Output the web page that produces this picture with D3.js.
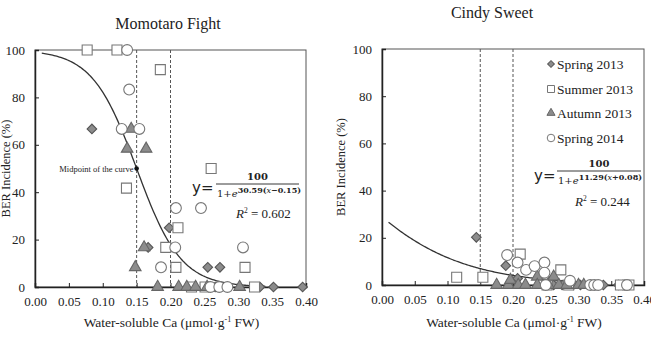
<!DOCTYPE html>
<html>
<head>
<meta charset="utf-8">
<script src="https://cdn.jsdelivr.net/npm/d3@7"></script>
<style>
  body { margin: 0; background: #fff; }
</style>
</head>
<body>
<div id="plot"></div>
<script>
// Momotaro Fight: [Ca, BER %]
var momoSpring2013 = [[0.084,66.7],[0.198,25],[0.167,16.7],[0.255,8.3],[0.273,8.3],[0.256,0],[0.266,0],[0.332,0],[0.352,0],[0.395,0]];
var momoSummer2013 = [[0.077,100],[0.121,100],[0.185,91.7],[0.26,50],[0.135,41.7],[0.211,25],[0.193,16.7],[0.208,8.3],[0.31,8.3],[0.231,0],[0.251,0],[0.324,0]];
var momoAutumn2013 = [[0.142,66.7],[0.136,58.3],[0.164,58.3],[0.161,16.7],[0.148,8.3],[0.181,0],[0.212,0],[0.224,0],[0.237,0],[0.254,0],[0.302,0]];
var momoSpring2014 = [[0.136,100],[0.139,83.3],[0.128,66.7],[0.154,66.7],[0.208,33.3],[0.245,33.3],[0.207,16.7],[0.307,16.7],[0.186,8.3],[0.259,0],[0.272,0],[0.284,0]];

// Cindy Sweet
var cindySpring2013 = [[0.144,20.2],[0.189,8.2],[0.207,2.8],[0.258,2],[0.262,0],[0.275,0],[0.292,0],[0.303,0],[0.338,0],[0.361,0],[0.367,0]];
var cindySummer2013 = [[0.114,3.3],[0.154,3.3],[0.211,13.1],[0.273,6.4],[0.252,0],[0.285,0],[0.364,0],[0.377,0]];
var cindyAutumn2013 = [[0.175,0],[0.193,0],[0.196,2.1],[0.208,0],[0.219,0],[0.237,3.5],[0.237,0],[0.254,0],[0.262,3.5],[0.27,0],[0.282,0],[0.3,0],[0.308,0]];
var cindySpring2014 = [[0.191,12.7],[0.207,9.5],[0.22,6.4],[0.233,8],[0.248,9.5],[0.248,5.2],[0.287,1.8],[0.25,0],[0.318,0],[0.324,0],[0.33,0],[0.374,0]];

var seriesNames = ["Spring 2013","Summer 2013","Autumn 2013","Spring 2014"];
var xTicks = [0,0.05,0.10,0.15,0.20,0.25,0.30,0.35,0.40];
var yTicks = [0,20,40,60,80,100];
var guideLines = [0.15, 0.20];

// logistic fits y = 100/(1+e^(k(x-m)))
var momoFit = {k: 30.59, m: 0.15, from: 0.01, to: 0.34};
var cindyFit = {k: 11.29, m: -0.08, from: 0.01, to: 0.30};

var width = 651, height = 338;
var SERIF = "'Liberation Serif', 'Times New Roman', Times, serif";
var MATH = "'DejaVu Serif', 'Liberation Serif', serif";

var svg = d3.select("#plot").append("svg")
     .attr("width", width)
     .attr("height", height)
     .attr("font-family", SERIF);

var markerStyles = [
     {type: "diamond", fill: "#8c8c8c", stroke: "#555"},
     {type: "square", fill: "#fff", stroke: "#777"},
     {type: "triangle", fill: "#8c8c8c", stroke: "#666"},
     {type: "circle", fill: "#fff", stroke: "#777"}
];

function markerPath(type, s) {
     // s = scale factor, 1 = chart size
     if (type == "diamond") return d3.symbol().type(d3.symbolSquare).size(46*s*s)();
     if (type == "square") return d3.symbol().type(d3.symbolSquare).size(100*s*s)();
     if (type == "triangle") return d3.symbol().type(d3.symbolTriangle).size(58*s*s)();
     return d3.symbol().type(d3.symbolCircle).size(92*s*s)();
}

function txt(sel, size, fam) {
     return sel.attr("font-family", fam || SERIF).attr("font-size", size).attr("fill", "#222");
}

function drawPanel(p) {
     var x = d3.scaleLinear().domain([0,0.4]).range(p.xr);
     var y = d3.scaleLinear().domain([0,100]).range(p.yr);
     var g = svg.append("g");

     // frame
     g.append("rect")
          .attr("x", p.xr[0]).attr("y", p.yr[1])
          .attr("width", p.xr[1]-p.xr[0]).attr("height", p.yr[0]-p.yr[1])
          .attr("fill", "none").attr("stroke", "#555").attr("stroke-width", 1);

     // axes (ticks inside)
     var xa = g.append("g")
          .attr("transform", "translate(0," + p.yr[0] + ")")
          .call(d3.axisBottom(x).tickValues(xTicks).tickSize(-4).tickPadding(10).tickFormat(d3.format(".2f")));
     var ya = g.append("g")
          .attr("transform", "translate(" + p.xr[0] + ",0)")
          .call(d3.axisLeft(y).tickValues(yTicks).tickSize(-4).tickPadding(10));
     [xa, ya].forEach(function(a){
          a.attr("font-family", SERIF).attr("font-size", 13);
          a.select(".domain").attr("stroke", "#222").attr("stroke-width", 1.5);
          a.selectAll(".tick line").attr("stroke", "#222");
          a.selectAll("text").attr("fill", "#222");
     });
     ya.selectAll(".tick").filter(function(d){ return d==0 || d==100; }).select("line").remove();

     // guide lines
     g.selectAll(".guide").data(guideLines).enter().append("line")
          .attr("x1", function(d){ return x(d); }).attr("x2", function(d){ return x(d); })
          .attr("y1", p.yr[1]).attr("y2", p.yr[0])
          .attr("stroke", "#555").attr("stroke-width", 1).attr("stroke-dasharray", "3,2");

     // fitted curve
     var pts = d3.range(p.fit.from, p.fit.to + 0.0001, 0.002);
     g.append("path")
          .datum(pts)
          .attr("fill", "none").attr("stroke", "#333").attr("stroke-width", 1.3)
          .attr("d", d3.line()
               .x(function(d){ return x(d); })
               .y(function(d){ return y(100/(1+Math.exp(p.fit.k*(d-p.fit.m)))); }));

     // points
     p.series.forEach(function(data, i){
          var st = markerStyles[i];
          g.selectAll(".m" + i).data(data).enter().append("path")
               .attr("d", markerPath(st.type, 1))
               .attr("transform", function(d){
                    return "translate(" + x(d[0]) + "," + y(d[1]) + ")" + (st.type=="diamond" ? " rotate(45)" : "");
               })
               .attr("fill", st.fill).attr("stroke", st.stroke).attr("stroke-width", 1.1);
     });

     // titles
     txt(g.append("text"), 16).attr("x", p.titleX).attr("y", p.titleY)
          .attr("text-anchor", "middle").text(p.title);
     txt(g.append("text"), 12.5)
          .attr("transform", "translate(" + p.yLabelX + "," + ((p.yr[0]+p.yr[1])/2) + ") rotate(-90)")
          .attr("text-anchor", "middle").text("BER Incidence (%)");
     var xl = txt(g.append("text"), 13.5).attr("x", (p.xr[0]+p.xr[1])/2 + 1).attr("y", 327)
          .attr("text-anchor", "middle");
     xl.append("tspan").text("Water-soluble Ca (μmol·g");
     xl.append("tspan").attr("dy", -5).attr("font-size", 8).text("-1");
     xl.append("tspan").attr("dy", 5).text(" FW)");

     // equation
     var q = p.eq;
     txt(g.append("text"), 15, "'DejaVu Sans', sans-serif").attr("x", q.yx).attr("y", q.yb).text("y=");
     txt(g.append("text"), 10, MATH).attr("x", (q.l1+q.l2)/2).attr("y", q.line-4)
          .attr("text-anchor", "middle").attr("font-weight", "bold").text("100");
     g.append("line").attr("x1", q.l1).attr("x2", q.l2).attr("y1", q.line).attr("y2", q.line)
          .attr("stroke", "#222").attr("stroke-width", 0.9);
     var den = txt(g.append("text"), 10, MATH).attr("x", q.l1 + 1).attr("y", q.line + 13);
     den.append("tspan").text("1+");
     den.append("tspan").attr("font-style", "italic").text("e");
     den.append("tspan").attr("dy", -4).attr("font-size", 8).attr("font-weight", "bold").text(q.exp1);
     den.append("tspan").attr("font-size", 8).attr("font-style", "italic").text("x");
     den.append("tspan").attr("font-size", 8).attr("font-weight", "bold").text(q.exp2);
     var r = txt(g.append("text"), 13).attr("x", q.rx).attr("y", q.rb);
     r.append("tspan").attr("font-style", "italic").text("R");
     r.append("tspan").attr("dy", -5).attr("font-size", 7.5).text("2");
     r.append("tspan").attr("dy", 5).text(" = " + q.r2);

     return {x: x, y: y, g: g};
}

var left = drawPanel({
     xr: [35,306], yr: [287,50], title: "Momotaro Fight", titleX: 168, titleY: 29, yLabelX: 10,
     fit: momoFit,
     series: [momoSpring2013, momoSummer2013, momoAutumn2013, momoSpring2014],
     eq: {yx: 192, yb: 193, l1: 216, l2: 299, line: 184, exp1: "30.59(", exp2: "−0.15)", rx: 236, rb: 218, r2: "0.602"}
});

// midpoint of curve
left.g.append("circle")
     .attr("cx", left.x(momoFit.m)).attr("cy", left.y(50)).attr("r", 2.3).attr("fill", "#111");
txt(left.g.append("text"), 8.5).attr("x", left.x(momoFit.m) - 3).attr("y", left.y(50) + 3)
     .attr("text-anchor", "end").text("Midpoint of the curve");

var right = drawPanel({
     xr: [382,644], yr: [285,49], title: "Cindy Sweet", titleX: 492, titleY: 18, yLabelX: 345,
     fit: cindyFit,
     series: [cindySpring2013, cindySummer2013, cindyAutumn2013, cindySpring2014],
     eq: {yx: 534, yb: 181, l1: 557, l2: 641, line: 171, exp1: "11.29(", exp2: "+0.08)", rx: 575, rb: 206, r2: "0.244"}
});

// legend
var legY = [64, 89, 113, 138];
seriesNames.forEach(function(name, i){
     var st = markerStyles[i];
     right.g.append("path")
          .attr("d", markerPath(st.type, 0.7))
          .attr("transform", "translate(551," + legY[i] + ")" + (st.type=="diamond" ? " rotate(45)" : ""))
          .attr("fill", st.fill).attr("stroke", st.stroke).attr("stroke-width", 1);
     txt(right.g.append("text"), 13.5).attr("x", 557).attr("y", legY[i] + 4.5).text(name);
});
</script>
</body>
</html>
